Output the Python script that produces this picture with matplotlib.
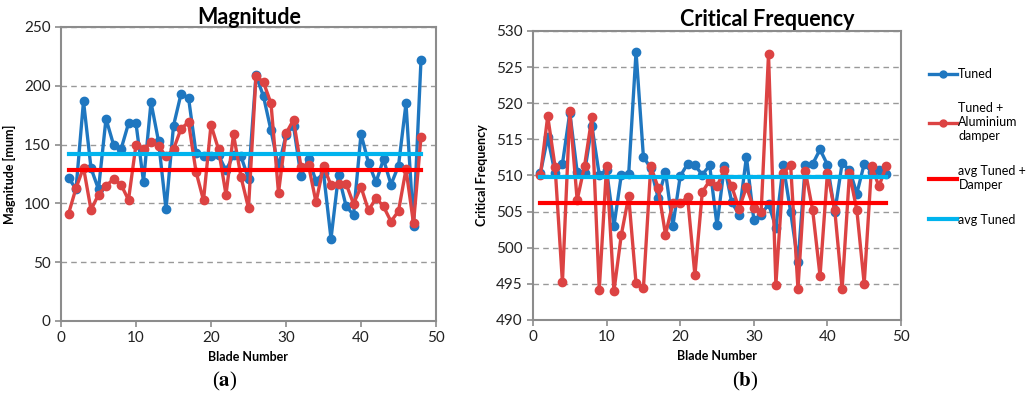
import matplotlib.pyplot as plt
from matplotlib.lines import Line2D
import numpy as np

# dane
blades = np.arange(1, 49)

mag_tuned = [122, 112, 187, 130, 112, 172, 150, 146, 168, 168, 118.5, 186, 153, 95, 166, 193,
             190, 143, 140, 140, 141, 128, 141, 140, 121, 209, 191, 162, 131, 158, 166, 123,
             138, 119, 126, 70, 124, 98, 90, 159, 134.5, 118, 137.6, 116, 132, 185, 81, 222]
mag_damper = [91, 113, 130.5, 94.6, 107.4, 115, 120.5, 116, 103, 150, 146, 152, 149, 140, 146, 163.5,
              169, 127, 102.6, 166.7, 146, 107.4, 158.7, 122.5, 96, 208.5, 203, 185, 109, 159.5, 171, 131,
              132.5, 101, 131.6, 115.4, 116.8, 116.8, 99.7, 114, 94, 104.5, 97.4, 84.6, 93.5, 129, 83, 156.7]
mag_avg_tuned = 142.4
mag_avg_damper = 128.8

freq_tuned = [510.3, 515.3, 510.3, 511.6, 518.7, 510.5, 510.4, 516.85, 510.1, 510.7, 503.0, 510.1,
              510.2, 527.1, 512.6, 511.0, 506.9, 510.5, 503.0, 509.9, 511.6, 511.4, 510.1, 511.4,
              503.1, 511.3, 506.3, 504.6, 512.6, 503.9, 504.5, 506.1, 502.8, 511.4, 505.0, 498.0,
              511.4, 511.6, 513.6, 511.5, 504.9, 511.7, 510.8, 507.5, 511.6, 510.5, 510.7, 510.2]
freq_damper = [510.0, 518.2, 511.2, 495.2, 518.9, 506.6, 511.3, 518.05, 494.2, 511.3, 494.0, 501.8,
               507.1, 495.1, 494.4, 511.3, 508.3, 501.8, 506.2, 506.2, 507.0, 496.2, 507.7, 509.3,
               508.5, 510.8, 508.5, 505.4, 508.4, 505.5, 505.0, 526.8, 494.9, 510.3, 511.5, 494.3,
               510.6, 505.2, 496.1, 510.3, 505.2, 494.3, 510.3, 505.2, 495.0, 511.3, 508.5, 511.3]
freq_avg_tuned = 509.8
freq_avg_damper = 506.2

BLUE = '#1f77c0'
RED = '#dc4343'
AVG_RED = '#ff0000'
AVG_BLUE = '#00b4ee'
SPINE = '#8c8c8c'

plt.rcParams['font.family'] = ['Lato', 'DejaVu Sans']

fig = plt.figure(figsize=(10.27, 4.01), dpi=100)
ax1 = fig.add_axes([61 / 1027, 80 / 401, 375 / 1027, 294 / 401])
ax2 = fig.add_axes([533 / 1027, 81 / 401, 368 / 1027, 289 / 401])


def draw_panel(ax, tuned, damper, avg_t, avg_d, ylim, step):
    ax.plot(blades, tuned, color=BLUE, lw=2.4, marker='o', ms=6, zorder=3)
    ax.plot(blades, damper, color=RED, lw=2.4, marker='o', ms=6, zorder=4)
    ax.plot([blades[0], blades[-1]], [avg_d, avg_d], color=AVG_RED, lw=3, zorder=5)
    ax.plot([blades[0], blades[-1]], [avg_t, avg_t], color=AVG_BLUE, lw=3, zorder=5)
    ax.set_xlim(0, 50)
    ax.set_ylim(*ylim)
    ax.set_xticks(np.arange(0, 51, 10))
    ax.set_yticks(np.arange(ylim[0], ylim[1] + 1, step))
    ax.yaxis.grid(True, ls=(0, (4, 3)), color='#999999', lw=1)
    ax.set_axisbelow(True)
    for s in ax.spines.values():
        s.set_color(SPINE)
        s.set_linewidth(1.5)
    ax.tick_params(colors=SPINE, labelcolor='#222222', labelsize=11, length=4, width=1.2)
    ax.set_xlabel('Blade Number', fontsize=9, fontweight='bold', labelpad=4)


draw_panel(ax1, mag_tuned, mag_damper, mag_avg_tuned, mag_avg_damper, (0, 250), 50)
ax1.set_ylabel('Magnitude [mum]', fontsize=9, fontweight='bold', labelpad=6)
fig.text(249 / 1027, 1 - 17 / 401, 'Magnitude', ha='center', va='center',
         fontsize=15.5, fontweight='bold')

draw_panel(ax2, freq_tuned, freq_damper, freq_avg_tuned, freq_avg_damper, (490, 530), 5)
ax2.set_ylabel('Critical Frequency', fontsize=9, fontweight='bold', labelpad=6)
fig.text(767 / 1027, 1 - 19 / 401, 'Critical Frequency', ha='center', va='center',
         fontsize=15.5, fontweight='bold')

handles = [
    Line2D([], [], color=BLUE, lw=2.4, marker='o', ms=5),
    Line2D([], [], color=RED, lw=2.4, marker='o', ms=5),
    Line2D([], [], color=AVG_RED, lw=3),
    Line2D([], [], color=AVG_BLUE, lw=3),
]
labels = ['Tuned', 'Tuned +\nAluminium\ndamper', 'avg Tuned +\nDamper', 'avg Tuned']
fig.legend(handles, labels, loc='upper left', bbox_to_anchor=(924 / 1027, 1 - 63 / 401),
           frameon=False, fontsize=9, handlelength=2.2, handletextpad=0.15,
           labelspacing=1.8, borderaxespad=0)

# podpisy (a) i (b)
plt.rcParams['mathtext.fontset'] = 'stix'
fig.text(225 / 1027, 1 - 381 / 401, r'($\mathbf{a}$)', ha='center', va='center',
         fontsize=15, family='Liberation Serif')
fig.text(745 / 1027, 1 - 381 / 401, r'($\mathbf{b}$)', ha='center', va='center',
         fontsize=15, family='Liberation Serif')

fig.savefig('out.png', dpi=100)
